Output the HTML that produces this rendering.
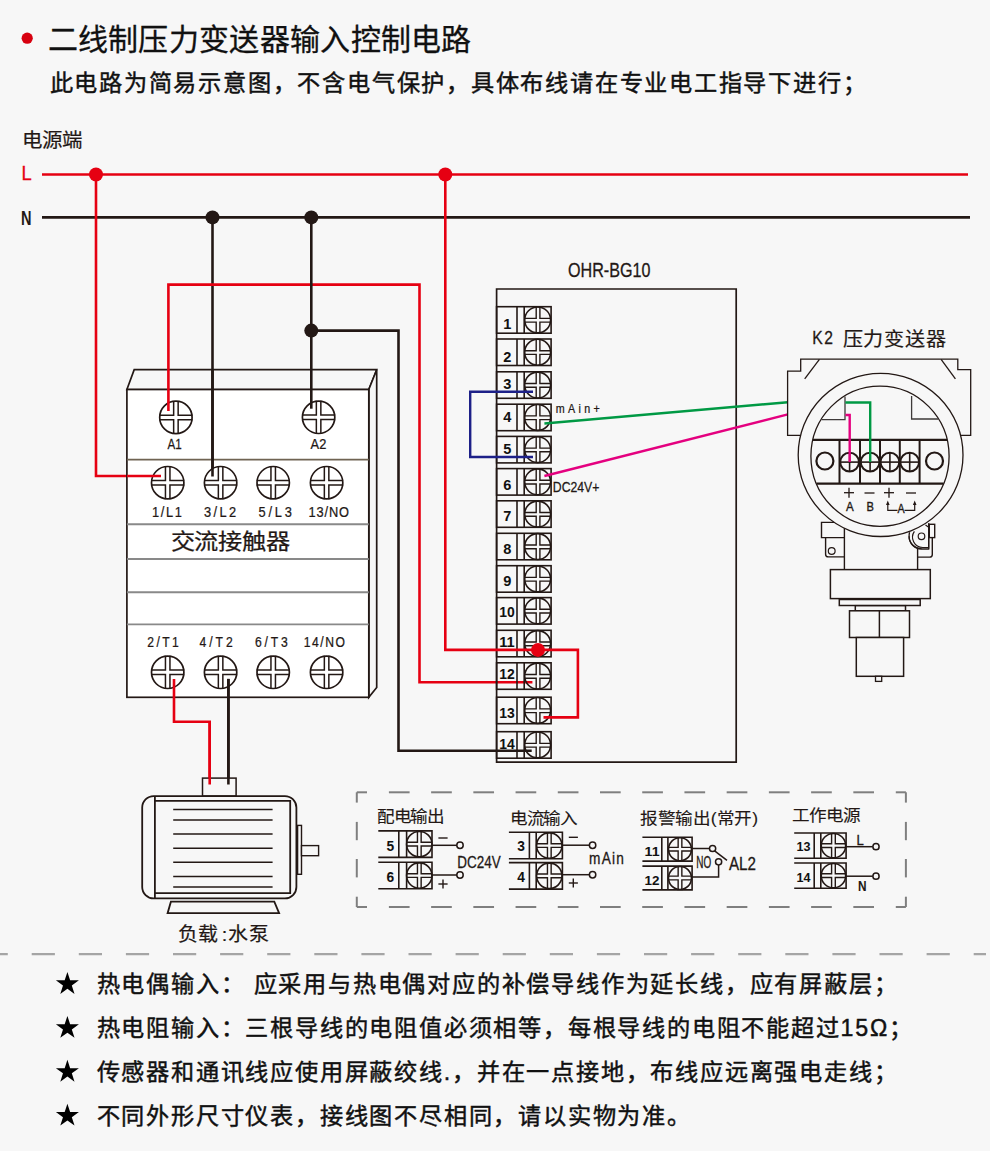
<!DOCTYPE html>
<html lang="zh-CN">
<head>
<meta charset="utf-8">
<style>
html,body{margin:0;padding:0;background:#f7f7f7;}
body{width:990px;height:1151px;overflow:hidden;position:relative;font-family:"Liberation Sans",sans-serif;}
svg{position:absolute;left:0;top:0;}
</style>
</head>
<body>
<svg width="990" height="1151" viewBox="0 0 990 1151">

<circle cx="27.2" cy="38.2" r="5.6" fill="#d7000f"/>
<text x="47.6" y="50.1" font-size="30" fill="#111" font-weight="400" text-anchor="start" font-family="Liberation Sans" letter-spacing="0.3" stroke="#111" stroke-width="0.3">二线制压力变送器输入控制电路</text>
<text x="49.6" y="91.4" font-size="23.2" fill="#111" font-weight="500" text-anchor="start" font-family="Liberation Sans" letter-spacing="1.78" stroke="#111" stroke-width="0.45">此电路为简易示意图，不含电气保护，具体布线请在专业电工指导下进行；</text>
<text transform="translate(21.88,146.6) scale(1.05,1)" x="0" y="0" font-size="19.5" fill="#231815" font-weight="400" font-family="Liberation Sans" textLength="57.85" lengthAdjust="spacing" stroke="#231815" stroke-width="0.2">电源端</text>
<text x="21.4" y="179.8" font-size="19.5" fill="#e60012" font-weight="400" text-anchor="start" font-family="Liberation Sans" textLength="10.2" lengthAdjust="spacingAndGlyphs" stroke="#e60012" stroke-width="0.3">L</text>
<text x="21" y="225" font-size="19.5" fill="#231815" font-weight="700" text-anchor="start" font-family="Liberation Sans" textLength="10.5" lengthAdjust="spacingAndGlyphs" >N</text>
<line x1="42" y1="174.5" x2="968" y2="174.5" stroke="#e60012" stroke-width="2.6" />
<line x1="42" y1="217.4" x2="970" y2="217.4" stroke="#231815" stroke-width="2.6" />
<polyline points="96,174.5 96,476 161,476" fill="none" stroke="#e60012" stroke-width="2.6" stroke-linejoin="miter" />
<polyline points="212.5,217.4 212.5,476.5" fill="none" stroke="#231815" stroke-width="2.6" stroke-linejoin="miter" />
<polygon points="126.9,389.5 134.2,369.7 376.7,369.7 368.8,389.5" fill="#f7f7f7" stroke="#231815" stroke-width="1.7" stroke-linejoin="miter" />
<polygon points="368.8,389.5 376.7,369.7 376.7,687.5 368.8,697.3" fill="#f7f7f7" stroke="#231815" stroke-width="1.7" stroke-linejoin="miter" />
<rect x="126.9" y="389.5" width="241.9" height="307.8" fill="#fff" stroke="#231815" stroke-width="1.7" />
<line x1="126.9" y1="459.6" x2="368.8" y2="459.6" stroke="#6f6352" stroke-width="1.7" />
<line x1="126.9" y1="524.2" x2="368.8" y2="524.2" stroke="#898989" stroke-width="1.9" />
<line x1="126.9" y1="559" x2="368.8" y2="559" stroke="#898989" stroke-width="1.9" />
<line x1="126.9" y1="592.3" x2="368.8" y2="592.3" stroke="#898989" stroke-width="1.9" />
<line x1="126.9" y1="624.4" x2="368.8" y2="624.4" stroke="#898989" stroke-width="1.9" />
<line x1="212.5" y1="369.7" x2="212.5" y2="476.5" stroke="#231815" stroke-width="2.6" />
<circle cx="175.9" cy="417.4" r="16.2" fill="#fff" stroke="#231815" stroke-width="1.7"/>
<path d="M173.65,400.9V415.15H159.3 M178.15,400.9V415.15H192.5 M173.65,433.9V419.65H159.3 M178.15,433.9V419.65H192.5" fill="none" stroke="#231815" stroke-width="1.5"/>
<circle cx="318.6" cy="417.3" r="16.2" fill="#fff" stroke="#231815" stroke-width="1.7"/>
<path d="M316.35,400.8V415.05H302.00000000000006 M320.85,400.8V415.05H335.2 M316.35,433.8V419.55H302.00000000000006 M320.85,433.8V419.55H335.2" fill="none" stroke="#231815" stroke-width="1.5"/>
<text transform="translate(167.6,448.7) scale(0.769,1)" x="0" y="0" font-size="15.1" fill="#231815" font-weight="400" font-family="Liberation Sans" textLength="18.47" lengthAdjust="spacing" stroke="#231815" stroke-width="0.25">A1</text>
<text transform="translate(310.4,448.7) scale(0.850,1)" x="0" y="0" font-size="15.1" fill="#231815" font-weight="400" font-family="Liberation Sans" textLength="18.71" lengthAdjust="spacing" stroke="#231815" stroke-width="0.25">A2</text>
<circle cx="167.7" cy="482.7" r="16.2" fill="#fff" stroke="#231815" stroke-width="1.7"/>
<path d="M165.45,466.2V480.45H151.1 M169.95,466.2V480.45H184.29999999999998 M165.45,499.2V484.95H151.1 M169.95,499.2V484.95H184.29999999999998" fill="none" stroke="#231815" stroke-width="1.5"/>
<circle cx="167.7" cy="672.3" r="16.2" fill="#fff" stroke="#231815" stroke-width="1.7"/>
<path d="M165.45,655.8V670.05H151.1 M169.95,655.8V670.05H184.29999999999998 M165.45,688.8V674.55H151.1 M169.95,688.8V674.55H184.29999999999998" fill="none" stroke="#231815" stroke-width="1.5"/>
<circle cx="220.6" cy="482.7" r="16.2" fill="#fff" stroke="#231815" stroke-width="1.7"/>
<path d="M218.35,466.2V480.45H204.0 M222.85,466.2V480.45H237.2 M218.35,499.2V484.95H204.0 M222.85,499.2V484.95H237.2" fill="none" stroke="#231815" stroke-width="1.5"/>
<circle cx="220.6" cy="672.3" r="16.2" fill="#fff" stroke="#231815" stroke-width="1.7"/>
<path d="M218.35,655.8V670.05H204.0 M222.85,655.8V670.05H237.2 M218.35,688.8V674.55H204.0 M222.85,688.8V674.55H237.2" fill="none" stroke="#231815" stroke-width="1.5"/>
<circle cx="273.2" cy="482.7" r="16.2" fill="#fff" stroke="#231815" stroke-width="1.7"/>
<path d="M270.95,466.2V480.45H256.6 M275.45,466.2V480.45H289.79999999999995 M270.95,499.2V484.95H256.6 M275.45,499.2V484.95H289.79999999999995" fill="none" stroke="#231815" stroke-width="1.5"/>
<circle cx="273.2" cy="672.3" r="16.2" fill="#fff" stroke="#231815" stroke-width="1.7"/>
<path d="M270.95,655.8V670.05H256.6 M275.45,655.8V670.05H289.79999999999995 M270.95,688.8V674.55H256.6 M275.45,688.8V674.55H289.79999999999995" fill="none" stroke="#231815" stroke-width="1.5"/>
<circle cx="326.6" cy="482.7" r="16.2" fill="#fff" stroke="#231815" stroke-width="1.7"/>
<path d="M324.35,466.2V480.45H310.00000000000006 M328.85,466.2V480.45H343.2 M324.35,499.2V484.95H310.00000000000006 M328.85,499.2V484.95H343.2" fill="none" stroke="#231815" stroke-width="1.5"/>
<circle cx="326.6" cy="672.3" r="16.2" fill="#fff" stroke="#231815" stroke-width="1.7"/>
<path d="M324.35,655.8V670.05H310.00000000000006 M328.85,655.8V670.05H343.2 M324.35,688.8V674.55H310.00000000000006 M328.85,688.8V674.55H343.2" fill="none" stroke="#231815" stroke-width="1.5"/>
<text transform="translate(152.0,516.8) scale(0.850,1)" x="0" y="0" font-size="15.1" fill="#231815" font-weight="400" font-family="Liberation Sans" textLength="35.29" lengthAdjust="spacing" stroke="#231815" stroke-width="0.25">1/L1</text>
<text transform="translate(204.0,516.8) scale(0.850,1)" x="0" y="0" font-size="15.1" fill="#231815" font-weight="400" font-family="Liberation Sans" textLength="37.76" lengthAdjust="spacing" stroke="#231815" stroke-width="0.25">3/L2</text>
<text transform="translate(258.5,516.8) scale(0.850,1)" x="0" y="0" font-size="15.1" fill="#231815" font-weight="400" font-family="Liberation Sans" textLength="39.41" lengthAdjust="spacing" stroke="#231815" stroke-width="0.25">5/L3</text>
<text transform="translate(308.5,516.8) scale(0.850,1)" x="0" y="0" font-size="15.1" fill="#231815" font-weight="400" font-family="Liberation Sans" textLength="47.76" lengthAdjust="spacing" stroke="#231815" stroke-width="0.25">13/NO</text>
<text transform="translate(147.20000000000002,646.9) scale(0.850,1)" x="0" y="0" font-size="14.3" fill="#231815" font-weight="400" font-family="Liberation Sans" textLength="37.18" lengthAdjust="spacing" stroke="#231815" stroke-width="0.25">2/T1</text>
<text transform="translate(199.4,646.9) scale(0.850,1)" x="0" y="0" font-size="14.3" fill="#231815" font-weight="400" font-family="Liberation Sans" textLength="39.29" lengthAdjust="spacing" stroke="#231815" stroke-width="0.25">4/T2</text>
<text transform="translate(255.0,646.9) scale(0.850,1)" x="0" y="0" font-size="14.3" fill="#231815" font-weight="400" font-family="Liberation Sans" textLength="38.47" lengthAdjust="spacing" stroke="#231815" stroke-width="0.25">6/T3</text>
<text transform="translate(303.79999999999995,646.9) scale(0.850,1)" x="0" y="0" font-size="14.3" fill="#231815" font-weight="400" font-family="Liberation Sans" textLength="48.47" lengthAdjust="spacing" stroke="#231815" stroke-width="0.25">14/NO</text>
<text transform="translate(170.53,549.4) scale(1.1,1)" x="0" y="0" font-size="22" fill="#231815" font-weight="400" font-family="Liberation Sans" textLength="109.03" lengthAdjust="spacing" stroke="#231815" stroke-width="0.25">交流接触器</text>
<polyline points="168.4,410.9 168.4,284.6 419.5,284.6 419.5,682.3 532.4,682.3" fill="none" stroke="#e60012" stroke-width="2.6" stroke-linejoin="miter" />
<polyline points="311.3,217.4 311.3,408.7" fill="none" stroke="#231815" stroke-width="2.6" stroke-linejoin="miter" />
<polyline points="311.3,330.6 398.5,330.6 398.5,750.7 531.7,750.7" fill="none" stroke="#231815" stroke-width="2.6" stroke-linejoin="miter" />
<line x1="126.9" y1="476" x2="161" y2="476" stroke="#e60012" stroke-width="2.6" />
<line x1="212.5" y1="369.7" x2="212.5" y2="476.5" stroke="#231815" stroke-width="2.6" />
<polyline points="174,678.9 174,721.7 209.7,721.7 209.7,784.7" fill="none" stroke="#e60012" stroke-width="2.6" stroke-linejoin="miter" />
<polyline points="228.4,678.9 228.4,784.7" fill="none" stroke="#231815" stroke-width="2.6" stroke-linejoin="miter" />
<text transform="translate(568.0,277.4) scale(0.832,1)" x="0" y="0" font-size="19.4" fill="#231815" font-weight="400" font-family="Liberation Sans" textLength="99.18" lengthAdjust="spacing" stroke="#231815" stroke-width="0.3">OHR-BG10</text>
<polygon points="496.6,762.1 496.6,289 736.2,289 736.2,762.1 496.6,762.1" fill="none" stroke="#231815" stroke-width="1.7" stroke-linejoin="miter" />
<rect x="496.6" y="306.7" width="54.5" height="26.5" fill="none" stroke="#231815" stroke-width="1.6" />
<line x1="517.0" y1="306.7" x2="517.0" y2="333.2" stroke="#231815" stroke-width="1.6" />
<line x1="524.2" y1="306.7" x2="524.2" y2="333.2" stroke="#231815" stroke-width="1.6" />
<circle cx="537.6500000000001" cy="319.95" r="12.95" fill="none" stroke="#231815" stroke-width="1.6"/>
<path d="M536.2,306.7V318.4H524.7 M539.9000000000001,306.7V318.4H550.6000000000001 M536.2,333.2V322.1H524.7 M539.9000000000001,333.2V322.1H550.6000000000001" fill="none" stroke="#231815" stroke-width="1.4"/>
<text x="507.2" y="329.2" font-size="14.6" fill="#111" font-weight="700" text-anchor="middle" font-family="Liberation Sans" >1</text>
<rect x="496.6" y="339" width="54.5" height="26.5" fill="none" stroke="#231815" stroke-width="1.6" />
<line x1="517.0" y1="339" x2="517.0" y2="365.5" stroke="#231815" stroke-width="1.6" />
<line x1="524.2" y1="339" x2="524.2" y2="365.5" stroke="#231815" stroke-width="1.6" />
<circle cx="537.6500000000001" cy="352.25" r="12.95" fill="none" stroke="#231815" stroke-width="1.6"/>
<path d="M536.2,339V350.7H524.7 M539.9000000000001,339V350.7H550.6000000000001 M536.2,365.5V354.40000000000003H524.7 M539.9000000000001,365.5V354.40000000000003H550.6000000000001" fill="none" stroke="#231815" stroke-width="1.4"/>
<text x="507.2" y="362.2" font-size="14.6" fill="#111" font-weight="700" text-anchor="middle" font-family="Liberation Sans" >2</text>
<rect x="496.6" y="371.8" width="54.5" height="26.5" fill="none" stroke="#231815" stroke-width="1.6" />
<line x1="517.0" y1="371.8" x2="517.0" y2="398.3" stroke="#231815" stroke-width="1.6" />
<line x1="524.2" y1="371.8" x2="524.2" y2="398.3" stroke="#231815" stroke-width="1.6" />
<circle cx="537.6500000000001" cy="385.05" r="12.95" fill="none" stroke="#231815" stroke-width="1.6"/>
<path d="M536.2,371.8V383.5H524.7 M539.9000000000001,371.8V383.5H550.6000000000001 M536.2,398.3V387.20000000000005H524.7 M539.9000000000001,398.3V387.20000000000005H550.6000000000001" fill="none" stroke="#231815" stroke-width="1.4"/>
<text x="507.2" y="389.1" font-size="14.6" fill="#111" font-weight="700" text-anchor="middle" font-family="Liberation Sans" >3</text>
<rect x="496.6" y="404.2" width="54.5" height="26.5" fill="none" stroke="#231815" stroke-width="1.6" />
<line x1="517.0" y1="404.2" x2="517.0" y2="430.7" stroke="#231815" stroke-width="1.6" />
<line x1="524.2" y1="404.2" x2="524.2" y2="430.7" stroke="#231815" stroke-width="1.6" />
<circle cx="537.6500000000001" cy="417.45" r="12.95" fill="none" stroke="#231815" stroke-width="1.6"/>
<path d="M536.2,404.2V415.9H524.7 M539.9000000000001,404.2V415.9H550.6000000000001 M536.2,430.7V419.6H524.7 M539.9000000000001,430.7V419.6H550.6000000000001" fill="none" stroke="#231815" stroke-width="1.4"/>
<text x="507.2" y="422.1" font-size="14.6" fill="#111" font-weight="700" text-anchor="middle" font-family="Liberation Sans" >4</text>
<rect x="496.6" y="436.4" width="54.5" height="26.5" fill="none" stroke="#231815" stroke-width="1.6" />
<line x1="517.0" y1="436.4" x2="517.0" y2="462.9" stroke="#231815" stroke-width="1.6" />
<line x1="524.2" y1="436.4" x2="524.2" y2="462.9" stroke="#231815" stroke-width="1.6" />
<circle cx="537.6500000000001" cy="449.65" r="12.95" fill="none" stroke="#231815" stroke-width="1.6"/>
<path d="M536.2,436.4V448.09999999999997H524.7 M539.9000000000001,436.4V448.09999999999997H550.6000000000001 M536.2,462.9V451.8H524.7 M539.9000000000001,462.9V451.8H550.6000000000001" fill="none" stroke="#231815" stroke-width="1.4"/>
<text x="507.2" y="454.3" font-size="14.6" fill="#111" font-weight="700" text-anchor="middle" font-family="Liberation Sans" >5</text>
<rect x="496.6" y="468.6" width="54.5" height="26.5" fill="none" stroke="#231815" stroke-width="1.6" />
<line x1="517.0" y1="468.6" x2="517.0" y2="495.1" stroke="#231815" stroke-width="1.6" />
<line x1="524.2" y1="468.6" x2="524.2" y2="495.1" stroke="#231815" stroke-width="1.6" />
<circle cx="537.6500000000001" cy="481.85" r="12.95" fill="none" stroke="#231815" stroke-width="1.6"/>
<path d="M536.2,468.6V480.3H524.7 M539.9000000000001,468.6V480.3H550.6000000000001 M536.2,495.1V484.00000000000006H524.7 M539.9000000000001,495.1V484.00000000000006H550.6000000000001" fill="none" stroke="#231815" stroke-width="1.4"/>
<text x="507.2" y="489.9" font-size="14.6" fill="#111" font-weight="700" text-anchor="middle" font-family="Liberation Sans" >6</text>
<rect x="496.6" y="500.8" width="54.5" height="26.5" fill="none" stroke="#231815" stroke-width="1.6" />
<line x1="517.0" y1="500.8" x2="517.0" y2="527.3" stroke="#231815" stroke-width="1.6" />
<line x1="524.2" y1="500.8" x2="524.2" y2="527.3" stroke="#231815" stroke-width="1.6" />
<circle cx="537.6500000000001" cy="514.05" r="12.95" fill="none" stroke="#231815" stroke-width="1.6"/>
<path d="M536.2,500.8V512.4999999999999H524.7 M539.9000000000001,500.8V512.4999999999999H550.6000000000001 M536.2,527.3V516.1999999999999H524.7 M539.9000000000001,527.3V516.1999999999999H550.6000000000001" fill="none" stroke="#231815" stroke-width="1.4"/>
<text x="507.2" y="521.3" font-size="14.6" fill="#111" font-weight="700" text-anchor="middle" font-family="Liberation Sans" >7</text>
<rect x="496.6" y="533.3" width="54.5" height="26.5" fill="none" stroke="#231815" stroke-width="1.6" />
<line x1="517.0" y1="533.3" x2="517.0" y2="559.8" stroke="#231815" stroke-width="1.6" />
<line x1="524.2" y1="533.3" x2="524.2" y2="559.8" stroke="#231815" stroke-width="1.6" />
<circle cx="537.6500000000001" cy="546.55" r="12.95" fill="none" stroke="#231815" stroke-width="1.6"/>
<path d="M536.2,533.3V544.9999999999999H524.7 M539.9000000000001,533.3V544.9999999999999H550.6000000000001 M536.2,559.8V548.6999999999999H524.7 M539.9000000000001,559.8V548.6999999999999H550.6000000000001" fill="none" stroke="#231815" stroke-width="1.4"/>
<text x="507.2" y="554.1" font-size="14.6" fill="#111" font-weight="700" text-anchor="middle" font-family="Liberation Sans" >8</text>
<rect x="496.6" y="565.7" width="54.5" height="26.5" fill="none" stroke="#231815" stroke-width="1.6" />
<line x1="517.0" y1="565.7" x2="517.0" y2="592.2" stroke="#231815" stroke-width="1.6" />
<line x1="524.2" y1="565.7" x2="524.2" y2="592.2" stroke="#231815" stroke-width="1.6" />
<circle cx="537.6500000000001" cy="578.95" r="12.95" fill="none" stroke="#231815" stroke-width="1.6"/>
<path d="M536.2,565.7V577.4H524.7 M539.9000000000001,565.7V577.4H550.6000000000001 M536.2,592.2V581.1H524.7 M539.9000000000001,592.2V581.1H550.6000000000001" fill="none" stroke="#231815" stroke-width="1.4"/>
<text x="507.2" y="585.8" font-size="14.6" fill="#111" font-weight="700" text-anchor="middle" font-family="Liberation Sans" >9</text>
<rect x="496.6" y="597.6" width="54.5" height="26.5" fill="none" stroke="#231815" stroke-width="1.6" />
<line x1="517.0" y1="597.6" x2="517.0" y2="624.1" stroke="#231815" stroke-width="1.6" />
<line x1="524.2" y1="597.6" x2="524.2" y2="624.1" stroke="#231815" stroke-width="1.6" />
<circle cx="537.6500000000001" cy="610.85" r="12.95" fill="none" stroke="#231815" stroke-width="1.6"/>
<path d="M536.2,597.6V609.3H524.7 M539.9000000000001,597.6V609.3H550.6000000000001 M536.2,624.1V613.0H524.7 M539.9000000000001,624.1V613.0H550.6000000000001" fill="none" stroke="#231815" stroke-width="1.4"/>
<text x="507.0" y="617.0" font-size="14.6" fill="#111" font-weight="700" text-anchor="middle" font-family="Liberation Sans" textLength="15.5" lengthAdjust="spacingAndGlyphs" >10</text>
<rect x="496.6" y="630.3" width="54.5" height="26.5" fill="none" stroke="#231815" stroke-width="1.6" />
<line x1="517.0" y1="630.3" x2="517.0" y2="656.8" stroke="#231815" stroke-width="1.6" />
<line x1="524.2" y1="630.3" x2="524.2" y2="656.8" stroke="#231815" stroke-width="1.6" />
<circle cx="537.6500000000001" cy="643.55" r="12.95" fill="none" stroke="#231815" stroke-width="1.6"/>
<path d="M536.2,630.3V641.9999999999999H524.7 M539.9000000000001,630.3V641.9999999999999H550.6000000000001 M536.2,656.8V645.6999999999999H524.7 M539.9000000000001,656.8V645.6999999999999H550.6000000000001" fill="none" stroke="#231815" stroke-width="1.4"/>
<text x="507.0" y="646.8" font-size="14.6" fill="#111" font-weight="700" text-anchor="middle" font-family="Liberation Sans" textLength="15.5" lengthAdjust="spacingAndGlyphs" >11</text>
<rect x="496.6" y="662.8" width="54.5" height="26.5" fill="none" stroke="#231815" stroke-width="1.6" />
<line x1="517.0" y1="662.8" x2="517.0" y2="689.3" stroke="#231815" stroke-width="1.6" />
<line x1="524.2" y1="662.8" x2="524.2" y2="689.3" stroke="#231815" stroke-width="1.6" />
<circle cx="537.6500000000001" cy="676.05" r="12.95" fill="none" stroke="#231815" stroke-width="1.6"/>
<path d="M536.2,662.8V674.4999999999999H524.7 M539.9000000000001,662.8V674.4999999999999H550.6000000000001 M536.2,689.3V678.1999999999999H524.7 M539.9000000000001,689.3V678.1999999999999H550.6000000000001" fill="none" stroke="#231815" stroke-width="1.4"/>
<text x="507.0" y="678.5" font-size="14.6" fill="#111" font-weight="700" text-anchor="middle" font-family="Liberation Sans" textLength="15.5" lengthAdjust="spacingAndGlyphs" >12</text>
<rect x="496.6" y="697.2" width="54.5" height="26.5" fill="none" stroke="#231815" stroke-width="1.6" />
<line x1="517.0" y1="697.2" x2="517.0" y2="723.7" stroke="#231815" stroke-width="1.6" />
<line x1="524.2" y1="697.2" x2="524.2" y2="723.7" stroke="#231815" stroke-width="1.6" />
<circle cx="537.6500000000001" cy="710.45" r="12.95" fill="none" stroke="#231815" stroke-width="1.6"/>
<path d="M536.2,697.2V708.9H524.7 M539.9000000000001,697.2V708.9H550.6000000000001 M536.2,723.7V712.6H524.7 M539.9000000000001,723.7V712.6H550.6000000000001" fill="none" stroke="#231815" stroke-width="1.4"/>
<text x="507.0" y="718.3" font-size="14.6" fill="#111" font-weight="700" text-anchor="middle" font-family="Liberation Sans" textLength="15.5" lengthAdjust="spacingAndGlyphs" >13</text>
<rect x="496.6" y="731.7" width="54.5" height="26.5" fill="none" stroke="#231815" stroke-width="1.6" />
<line x1="517.0" y1="731.7" x2="517.0" y2="758.2" stroke="#231815" stroke-width="1.6" />
<line x1="524.2" y1="731.7" x2="524.2" y2="758.2" stroke="#231815" stroke-width="1.6" />
<circle cx="537.6500000000001" cy="744.95" r="12.95" fill="none" stroke="#231815" stroke-width="1.6"/>
<path d="M536.2,731.7V743.4H524.7 M539.9000000000001,731.7V743.4H550.6000000000001 M536.2,758.2V747.1H524.7 M539.9000000000001,758.2V747.1H550.6000000000001" fill="none" stroke="#231815" stroke-width="1.4"/>
<text x="507.0" y="748.8" font-size="14.6" fill="#111" font-weight="700" text-anchor="middle" font-family="Liberation Sans" textLength="15.5" lengthAdjust="spacingAndGlyphs" >14</text>
<polyline points="445.3,174.5 445.3,649.9 577.9,649.9 577.9,717.4 543.5,717.4" fill="none" stroke="#e60012" stroke-width="2.6" stroke-linejoin="miter" />
<circle cx="538" cy="649.9" r="7" fill="#e60012"/>
<polyline points="533,391.7 470.2,391.7 470.2,457 533,457" fill="none" stroke="#1d2088" stroke-width="2.4" stroke-linejoin="miter" />
<line x1="544.4" y1="423.5" x2="787.8" y2="402.2" stroke="#009944" stroke-width="2.4" />
<line x1="544.4" y1="476" x2="787.8" y2="414.4" stroke="#e4007f" stroke-width="2.4" />
<text transform="translate(555.8,412.7) scale(0.850,1)" x="0" y="0" font-size="12.6" fill="#231815" font-weight="400" font-family="Liberation Sans" textLength="51.76" lengthAdjust="spacing" stroke="#231815" stroke-width="0.25">mAin+</text>
<text transform="translate(552.8,491.6) scale(0.833,1)" x="0" y="0" font-size="14.7" fill="#231815" font-weight="400" font-family="Liberation Sans" textLength="55.97" lengthAdjust="spacing" stroke="#231815" stroke-width="0.25">DC24V+</text>
<circle cx="96" cy="174.5" r="7" fill="#e60012"/>
<circle cx="445.3" cy="174.5" r="7" fill="#e60012"/>
<circle cx="212.5" cy="217.4" r="7" fill="#231815"/>
<circle cx="311.3" cy="217.4" r="7" fill="#231815"/>
<circle cx="311.3" cy="330.6" r="7" fill="#231815"/>
<text transform="translate(812.3,344.4) scale(0.850,1)" x="0" y="0" font-size="18.4" fill="#231815" font-weight="400" font-family="Liberation Sans" textLength="24.24" lengthAdjust="spacing" stroke="#231815" stroke-width="0.3">K2</text>
<text transform="translate(842.79,345.6) scale(1.06,1)" x="0" y="0" font-size="19" fill="#231815" font-weight="400" font-family="Liberation Sans" textLength="97.56" lengthAdjust="spacing" stroke="#231815" stroke-width="0.2">压力变送器</text>
<polyline points="800.2,435.4 787.6,435.4 787.6,371.2 800.7,371.2 800.7,359.1 957.8,359.1 957.8,369.6 970.7,369.6 970.7,435.4 960,435.4" fill="#f7f7f7" stroke="#231815" stroke-width="1.3" stroke-linejoin="miter" />
<line x1="819.4" y1="359.3" x2="804.7" y2="378.8" stroke="#231815" stroke-width="1.3" />
<line x1="941.1" y1="359.3" x2="955.4" y2="378.8" stroke="#231815" stroke-width="1.3" />
<path d="M844.4,522.4H821.5V537.6H844.4 M825.6,537.6V554.2Q825.6,556.9 828.3,556.9H844.4" fill="#f7f7f7" stroke="#231815" stroke-width="1.4"/>
<circle cx="831.7" cy="551" r="3.4" fill="none" stroke="#231815" stroke-width="1.2"/>
<path d="M917.6,557.1H929.6Q932.3,557.1 932.3,554.4V537.6" fill="none" stroke="#231815" stroke-width="1.4"/>
<rect x="929.3" y="524.3" width="5.4" height="13.3" fill="#f7f7f7" stroke="#231815" stroke-width="1.4" />
<path d="M928.7,523.3V548.7 M921.5,548.7A12.4,12.4 0 0 1 909.1,536.3" fill="none" stroke="#231815" stroke-width="1.3"/>
<line x1="844.4" y1="528" x2="844.4" y2="569.6" stroke="#231815" stroke-width="1.4" />
<line x1="917.6" y1="549" x2="917.6" y2="569.6" stroke="#231815" stroke-width="1.4" />
<ellipse cx="880.6" cy="454.9" rx="82.4" ry="81.6" fill="#f7f7f7" stroke="#231815" stroke-width="1.3"/>
<path d="M928.7,523.6V549H921.5A12.4,12.4 0 0 1 909.1,536.3A12.4,12.4 0 0 1 909.6,532.3" fill="none" stroke="#231815" stroke-width="1.3"/>
<path d="M928.7,547.5H922.8A10.2,10.2 0 0 1 914.4,531.45" fill="none" stroke="#231815" stroke-width="1.2"/>
<path d="M928.7,527.2L925.5,525" fill="none" stroke="#231815" stroke-width="1.2"/>
<circle cx="921.5" cy="536.3" r="3.3" fill="none" stroke="#231815" stroke-width="1.2"/>
<ellipse cx="880" cy="456.2" rx="69.1" ry="70.1" fill="#f7f7f7" stroke="#231815" stroke-width="1.3"/>
<polyline points="845,396.5 845,419.7 821.4,419.7" fill="none" stroke="#3e3a39" stroke-width="1.3" stroke-linejoin="miter" />
<polyline points="911.6,396 911.6,419 938.2,419" fill="none" stroke="#3e3a39" stroke-width="1.3" stroke-linejoin="miter" />
<line x1="812.8" y1="439.9" x2="947.2" y2="439.9" stroke="#231815" stroke-width="2.2" />
<line x1="816.4" y1="483.6" x2="943.6" y2="483.6" stroke="#231815" stroke-width="2.2" />
<line x1="839.5" y1="439.9" x2="839.5" y2="483.6" stroke="#231815" stroke-width="2" />
<line x1="860" y1="439.9" x2="860" y2="483.6" stroke="#231815" stroke-width="2" />
<line x1="880" y1="439.9" x2="880" y2="483.6" stroke="#231815" stroke-width="2" />
<line x1="899.8" y1="439.9" x2="899.8" y2="483.6" stroke="#231815" stroke-width="2" />
<line x1="919.6" y1="439.9" x2="919.6" y2="483.6" stroke="#231815" stroke-width="2" />
<circle cx="824.9" cy="461" r="8.5" fill="none" stroke="#231815" stroke-width="2.2"/>
<circle cx="934.5" cy="461" r="8.5" fill="none" stroke="#231815" stroke-width="2.2"/>
<circle cx="849.6" cy="462.1" r="9.4" fill="#f7f7f7" stroke="#231815" stroke-width="2"/>
<line x1="840.2" y1="462.1" x2="859.0" y2="462.1" stroke="#231815" stroke-width="1.6" />
<line x1="849.6" y1="452.7" x2="849.6" y2="471.5" stroke="#231815" stroke-width="1.6" />
<circle cx="870.1" cy="462.1" r="9.4" fill="#f7f7f7" stroke="#231815" stroke-width="2"/>
<line x1="860.7" y1="462.1" x2="879.5" y2="462.1" stroke="#231815" stroke-width="1.6" />
<line x1="870.1" y1="452.7" x2="870.1" y2="471.5" stroke="#231815" stroke-width="1.6" />
<circle cx="889.9" cy="462.1" r="9.4" fill="#f7f7f7" stroke="#231815" stroke-width="2"/>
<line x1="880.5" y1="462.1" x2="899.3" y2="462.1" stroke="#231815" stroke-width="1.6" />
<line x1="889.9" y1="452.7" x2="889.9" y2="471.5" stroke="#231815" stroke-width="1.6" />
<circle cx="909.7" cy="462.1" r="9.4" fill="#f7f7f7" stroke="#231815" stroke-width="2"/>
<line x1="900.3000000000001" y1="462.1" x2="919.1" y2="462.1" stroke="#231815" stroke-width="1.6" />
<line x1="909.7" y1="452.7" x2="909.7" y2="471.5" stroke="#231815" stroke-width="1.6" />
<polyline points="845.4,402.5 870.2,402.5 870.2,462.1" fill="none" stroke="#009944" stroke-width="2.4" stroke-linejoin="miter" />
<polyline points="845.4,415 849.7,415 849.7,462.1" fill="none" stroke="#e4007f" stroke-width="2.4" stroke-linejoin="miter" />
<line x1="844" y1="492.7" x2="854" y2="492.7" stroke="#231815" stroke-width="1.3" />
<line x1="849" y1="487.8" x2="849" y2="497.7" stroke="#231815" stroke-width="1.3" />
<line x1="884" y1="492.7" x2="894" y2="492.7" stroke="#231815" stroke-width="1.3" />
<line x1="889" y1="487.8" x2="889" y2="497.7" stroke="#231815" stroke-width="1.3" />
<line x1="864.5" y1="493" x2="874.5" y2="493" stroke="#231815" stroke-width="1.3" />
<line x1="906" y1="493" x2="916" y2="493" stroke="#231815" stroke-width="1.3" />
<text transform="translate(845.9,510.6) scale(0.850,1)" x="0" y="0" font-size="13.6" fill="#231815" font-weight="400" font-family="Liberation Sans" textLength="9.18" lengthAdjust="spacing" stroke="#231815" stroke-width="0.35">A</text>
<text transform="translate(866.4,510.6) scale(0.816,1)" x="0" y="0" font-size="13.6" fill="#231815" font-weight="400" font-family="Liberation Sans" textLength="9.07" lengthAdjust="spacing" stroke="#231815" stroke-width="0.35">B</text>
<text transform="translate(897.4,513) scale(0.850,1)" x="0" y="0" font-size="12.6" fill="#231815" font-weight="400" font-family="Liberation Sans" textLength="8.47" lengthAdjust="spacing" stroke="#231815" stroke-width="0.35">A</text>
<path d="M887.8,503.5V510.4H897.5 M904.5,510.4H914.7V503.5" fill="none" stroke="#231815" stroke-width="1.2"/>
<path d="M887.8,500.5L886,505H889.6Z M914.7,500.5L912.9,505H916.5Z" fill="#231815"/>
<rect x="830.4" y="569.6" width="99.9" height="29" fill="#f7f7f7" stroke="#231815" stroke-width="1.5" />
<rect x="839.3" y="599.5" width="80.9" height="6" fill="#f7f7f7" stroke="#231815" stroke-width="1.5" />
<rect x="855.3" y="605.7" width="50.2" height="5.1" fill="#f7f7f7" stroke="#231815" stroke-width="1.5" />
<rect x="849.5" y="610.8" width="60" height="26.7" fill="#f7f7f7" stroke="#231815" stroke-width="1.5" />
<line x1="879.4" y1="610.8" x2="879.4" y2="637.5" stroke="#231815" stroke-width="1.5" />
<rect x="856.3" y="637.5" width="47.3" height="38.8" fill="#f7f7f7" stroke="#231815" stroke-width="1.5" />
<rect x="875.5" y="676.3" width="6.2" height="5.1" fill="#f7f7f7" stroke="#231815" stroke-width="1.3" />
<rect x="202.5" y="778.1" width="33.6" height="18" fill="#f7f7f7" stroke="#231815" stroke-width="1.5" />
<rect x="142.2" y="796.1" width="154.2" height="102.3" rx="11.5" ry="11.5" fill="#f7f7f7" stroke="#231815" stroke-width="1.8"/>
<line x1="154.9" y1="796.1" x2="154.9" y2="898.4" stroke="#231815" stroke-width="1.8" />
<polyline points="154.9,800.9 290.2,800.9 290.2,893.2 154.9,893.2" fill="none" stroke="#231815" stroke-width="1.8" stroke-linejoin="miter" />
<line x1="173.2" y1="809.5" x2="272.6" y2="809.5" stroke="#231815" stroke-width="1.5" />
<line x1="173.2" y1="819.9" x2="272.6" y2="819.9" stroke="#231815" stroke-width="1.5" />
<line x1="173.2" y1="834.1" x2="272.6" y2="834.1" stroke="#231815" stroke-width="1.5" />
<line x1="173.2" y1="848.2" x2="272.6" y2="848.2" stroke="#231815" stroke-width="1.5" />
<line x1="173.2" y1="862.3" x2="272.6" y2="862.3" stroke="#231815" stroke-width="1.5" />
<line x1="173.2" y1="876.5" x2="272.6" y2="876.5" stroke="#231815" stroke-width="1.5" />
<line x1="173.2" y1="887" x2="272.6" y2="887" stroke="#231815" stroke-width="1.5" />
<rect x="297.6" y="825.4" width="3.9" height="48.9" fill="#f7f7f7" stroke="#231815" stroke-width="1.4" />
<rect x="301.5" y="845.6" width="17.1" height="10.1" fill="#f7f7f7" stroke="#231815" stroke-width="1.4" />
<polygon points="170.9,901.7 274.3,901.7 279.1,913.2 167.6,913.2" fill="none" stroke="#231815" stroke-width="1.8" stroke-linejoin="miter" />
<text transform="translate(177.60,940.6) scale(1.05,1)" x="0" y="0" font-size="19" fill="#231815" font-weight="400" font-family="Liberation Sans" textLength="18.19" lengthAdjust="spacing" stroke="#231815" stroke-width="0.2">负</text>
<text transform="translate(197.60,940.6) scale(1.05,1)" x="0" y="0" font-size="19" fill="#231815" font-weight="400" font-family="Liberation Sans" textLength="18.19" lengthAdjust="spacing" stroke="#231815" stroke-width="0.2">载</text>
<text transform="translate(221.80,940.6) scale(1.05,1)" x="0" y="0" font-size="19" fill="#231815" font-weight="400" font-family="Liberation Sans" textLength="4.38" lengthAdjust="spacing" stroke="#231815" stroke-width="0.2">:</text>
<text transform="translate(228.00,940.6) scale(1.05,1)" x="0" y="0" font-size="19" fill="#231815" font-weight="400" font-family="Liberation Sans" textLength="18.19" lengthAdjust="spacing" stroke="#231815" stroke-width="0.2">水</text>
<text transform="translate(248.60,940.6) scale(1.05,1)" x="0" y="0" font-size="19" fill="#231815" font-weight="400" font-family="Liberation Sans" textLength="18.19" lengthAdjust="spacing" stroke="#231815" stroke-width="0.2">泵</text>
<line x1="209.7" y1="721.7" x2="209.7" y2="784.5" stroke="#e60012" stroke-width="2.6" />
<line x1="228.4" y1="678.9" x2="228.4" y2="784.5" stroke="#231815" stroke-width="2.6" />
<line x1="356.8" y1="792.3" x2="367" y2="792.3" stroke="#7f7f7f" stroke-width="2" />
<line x1="388.9" y1="792.3" x2="409.59999999999997" y2="792.3" stroke="#7f7f7f" stroke-width="2" />
<line x1="431.12" y1="792.3" x2="451.82" y2="792.3" stroke="#7f7f7f" stroke-width="2" />
<line x1="473.34" y1="792.3" x2="494.03999999999996" y2="792.3" stroke="#7f7f7f" stroke-width="2" />
<line x1="515.56" y1="792.3" x2="536.26" y2="792.3" stroke="#7f7f7f" stroke-width="2" />
<line x1="557.78" y1="792.3" x2="578.48" y2="792.3" stroke="#7f7f7f" stroke-width="2" />
<line x1="600.0" y1="792.3" x2="620.7" y2="792.3" stroke="#7f7f7f" stroke-width="2" />
<line x1="642.22" y1="792.3" x2="662.9200000000001" y2="792.3" stroke="#7f7f7f" stroke-width="2" />
<line x1="684.4399999999999" y1="792.3" x2="705.14" y2="792.3" stroke="#7f7f7f" stroke-width="2" />
<line x1="726.66" y1="792.3" x2="747.36" y2="792.3" stroke="#7f7f7f" stroke-width="2" />
<line x1="768.88" y1="792.3" x2="789.58" y2="792.3" stroke="#7f7f7f" stroke-width="2" />
<line x1="811.0999999999999" y1="792.3" x2="831.8" y2="792.3" stroke="#7f7f7f" stroke-width="2" />
<line x1="853.3199999999999" y1="792.3" x2="874.02" y2="792.3" stroke="#7f7f7f" stroke-width="2" />
<line x1="895.8" y1="792.3" x2="905.9" y2="792.3" stroke="#7f7f7f" stroke-width="2" />
<line x1="356.8" y1="907" x2="367" y2="907" stroke="#7f7f7f" stroke-width="2" />
<line x1="388.9" y1="907" x2="409.59999999999997" y2="907" stroke="#7f7f7f" stroke-width="2" />
<line x1="431.12" y1="907" x2="451.82" y2="907" stroke="#7f7f7f" stroke-width="2" />
<line x1="473.34" y1="907" x2="494.03999999999996" y2="907" stroke="#7f7f7f" stroke-width="2" />
<line x1="515.56" y1="907" x2="536.26" y2="907" stroke="#7f7f7f" stroke-width="2" />
<line x1="557.78" y1="907" x2="578.48" y2="907" stroke="#7f7f7f" stroke-width="2" />
<line x1="600.0" y1="907" x2="620.7" y2="907" stroke="#7f7f7f" stroke-width="2" />
<line x1="642.22" y1="907" x2="662.9200000000001" y2="907" stroke="#7f7f7f" stroke-width="2" />
<line x1="684.4399999999999" y1="907" x2="705.14" y2="907" stroke="#7f7f7f" stroke-width="2" />
<line x1="726.66" y1="907" x2="747.36" y2="907" stroke="#7f7f7f" stroke-width="2" />
<line x1="768.88" y1="907" x2="789.58" y2="907" stroke="#7f7f7f" stroke-width="2" />
<line x1="811.0999999999999" y1="907" x2="831.8" y2="907" stroke="#7f7f7f" stroke-width="2" />
<line x1="853.3199999999999" y1="907" x2="874.02" y2="907" stroke="#7f7f7f" stroke-width="2" />
<line x1="895.8" y1="907" x2="905.9" y2="907" stroke="#7f7f7f" stroke-width="2" />
<line x1="356.8" y1="792.3" x2="356.8" y2="802.6" stroke="#7f7f7f" stroke-width="2" />
<line x1="356.8" y1="821.9" x2="356.8" y2="840.2" stroke="#7f7f7f" stroke-width="2" />
<line x1="356.8" y1="859" x2="356.8" y2="877.4" stroke="#7f7f7f" stroke-width="2" />
<line x1="356.8" y1="896.7" x2="356.8" y2="907" stroke="#7f7f7f" stroke-width="2" />
<line x1="905.9" y1="792.3" x2="905.9" y2="802.6" stroke="#7f7f7f" stroke-width="2" />
<line x1="905.9" y1="821.9" x2="905.9" y2="840.2" stroke="#7f7f7f" stroke-width="2" />
<line x1="905.9" y1="859" x2="905.9" y2="877.4" stroke="#7f7f7f" stroke-width="2" />
<line x1="905.9" y1="896.7" x2="905.9" y2="907" stroke="#7f7f7f" stroke-width="2" />
<text transform="translate(376.90,822.3) scale(1.1,1)" x="0" y="0" font-size="16" fill="#231815" font-weight="400" font-family="Liberation Sans" textLength="61.64" lengthAdjust="spacing" stroke="#231815" stroke-width="0.12">配电输出</text>
<path d="M378.3,830.9H432.0V857.4H378.3" fill="none" stroke="#231815" stroke-width="1.6"/>
<line x1="398.8" y1="830.9" x2="398.8" y2="857.4" stroke="#231815" stroke-width="1.6" />
<line x1="406.6" y1="830.9" x2="406.6" y2="857.4" stroke="#231815" stroke-width="1.6" />
<circle cx="419.3" cy="844.15" r="12.7" fill="none" stroke="#231815" stroke-width="1.6"/>
<path d="M417.45,830.9V842.3H406.6 M421.15000000000003,830.9V842.3H432.0 M417.45,857.4V846.0H406.6 M421.15000000000003,857.4V846.0H432.0" fill="none" stroke="#231815" stroke-width="1.4"/>
<text x="386.6" y="851" font-size="13.8" fill="#111" font-weight="700" text-anchor="start" font-family="Liberation Sans" >5</text>
<path d="M378.3,862.3H432.0V888.8H378.3" fill="none" stroke="#231815" stroke-width="1.6"/>
<line x1="398.8" y1="862.3" x2="398.8" y2="888.8" stroke="#231815" stroke-width="1.6" />
<line x1="406.6" y1="862.3" x2="406.6" y2="888.8" stroke="#231815" stroke-width="1.6" />
<circle cx="419.3" cy="875.55" r="12.7" fill="none" stroke="#231815" stroke-width="1.6"/>
<path d="M417.45,862.3V873.6999999999999H406.6 M421.15000000000003,862.3V873.6999999999999H432.0 M417.45,888.8V877.4H406.6 M421.15000000000003,888.8V877.4H432.0" fill="none" stroke="#231815" stroke-width="1.4"/>
<text x="386.6" y="882.1" font-size="13.8" fill="#111" font-weight="700" text-anchor="start" font-family="Liberation Sans" >6</text>
<line x1="432" y1="845.3" x2="457" y2="845.3" stroke="#231815" stroke-width="1.5" />
<circle cx="460" cy="845.3" r="3.2" fill="none" stroke="#231815" stroke-width="1.5"/>
<line x1="432" y1="875" x2="457" y2="875" stroke="#231815" stroke-width="1.5" />
<circle cx="460" cy="875" r="3.2" fill="none" stroke="#231815" stroke-width="1.5"/>
<line x1="438.4" y1="838" x2="447.6" y2="838" stroke="#231815" stroke-width="1.4" />
<line x1="438.4" y1="884" x2="447.6" y2="884" stroke="#231815" stroke-width="1.4" />
<line x1="443" y1="879.4" x2="443" y2="888.6" stroke="#231815" stroke-width="1.4" />
<text transform="translate(457.29999999999995,868.1) scale(0.800,1)" x="0" y="0" font-size="16.8" fill="#231815" font-weight="400" font-family="Liberation Sans" textLength="54.16" lengthAdjust="spacing" stroke="#231815" stroke-width="0.3">DC24V</text>
<text transform="translate(509.80,823.5) scale(1.1,1)" x="0" y="0" font-size="16" fill="#231815" font-weight="400" font-family="Liberation Sans" textLength="61.83" lengthAdjust="spacing" stroke="#231815" stroke-width="0.12">电流输入</text>
<path d="M508.9,832.3H562.4V858.8H508.9" fill="none" stroke="#231815" stroke-width="1.6"/>
<line x1="529.4" y1="832.3" x2="529.4" y2="858.8" stroke="#231815" stroke-width="1.6" />
<line x1="536.1999999999999" y1="832.3" x2="536.1999999999999" y2="858.8" stroke="#231815" stroke-width="1.6" />
<circle cx="549.3" cy="845.55" r="12.7" fill="none" stroke="#231815" stroke-width="1.6"/>
<path d="M547.4499999999999,832.3V843.6999999999999H536.5999999999999 M551.15,832.3V843.6999999999999H562.0 M547.4499999999999,858.8V847.4H536.5999999999999 M551.15,858.8V847.4H562.0" fill="none" stroke="#231815" stroke-width="1.4"/>
<text x="517.3" y="850.7" font-size="13.8" fill="#111" font-weight="700" text-anchor="start" font-family="Liberation Sans" >3</text>
<path d="M508.9,862.6H562.4V889.1H508.9" fill="none" stroke="#231815" stroke-width="1.6"/>
<line x1="529.4" y1="862.6" x2="529.4" y2="889.1" stroke="#231815" stroke-width="1.6" />
<line x1="536.1999999999999" y1="862.6" x2="536.1999999999999" y2="889.1" stroke="#231815" stroke-width="1.6" />
<circle cx="549.3" cy="875.85" r="12.7" fill="none" stroke="#231815" stroke-width="1.6"/>
<path d="M547.4499999999999,862.6V874.0H536.5999999999999 M551.15,862.6V874.0H562.0 M547.4499999999999,889.1V877.7H536.5999999999999 M551.15,889.1V877.7H562.0" fill="none" stroke="#231815" stroke-width="1.4"/>
<text x="517.3" y="881.8" font-size="13.8" fill="#111" font-weight="700" text-anchor="start" font-family="Liberation Sans" >4</text>
<line x1="562.4" y1="845.2" x2="589.5" y2="845.2" stroke="#231815" stroke-width="1.5" />
<circle cx="592.6" cy="845.2" r="3.2" fill="none" stroke="#231815" stroke-width="1.5"/>
<line x1="562.4" y1="874.7" x2="589.5" y2="874.7" stroke="#231815" stroke-width="1.5" />
<circle cx="592.6" cy="874.7" r="3.2" fill="none" stroke="#231815" stroke-width="1.5"/>
<line x1="568.8" y1="837.3" x2="577.9" y2="837.3" stroke="#231815" stroke-width="1.4" />
<line x1="568.8" y1="883" x2="577.9" y2="883" stroke="#231815" stroke-width="1.4" />
<line x1="573.3" y1="878.5" x2="573.3" y2="887.5" stroke="#231815" stroke-width="1.4" />
<text transform="translate(589.1,864.1) scale(0.850,1)" x="0" y="0" font-size="16.1" fill="#231815" font-weight="400" font-family="Liberation Sans" textLength="40.94" lengthAdjust="spacing" stroke="#231815" stroke-width="0.3">mAin</text>
<text transform="translate(639.90,824.3) scale(1.1,1)" x="0" y="0" font-size="16" fill="#231815" font-weight="400" font-family="Liberation Sans" textLength="107.37" lengthAdjust="spacing" stroke="#231815" stroke-width="0.12">报警输出(常开)</text>
<path d="M642.4,837.3H692.1V861.0999999999999H642.4" fill="none" stroke="#231815" stroke-width="1.6"/>
<line x1="661.8" y1="837.3" x2="661.8" y2="861.0999999999999" stroke="#231815" stroke-width="1.6" />
<line x1="667.9" y1="837.3" x2="667.9" y2="861.0999999999999" stroke="#231815" stroke-width="1.6" />
<circle cx="680.0" cy="849.1999999999999" r="11.5" fill="none" stroke="#231815" stroke-width="1.6"/>
<path d="M678.15,837.3V847.3499999999999H668.5 M681.85,837.3V847.3499999999999H691.5 M678.15,861.0999999999999V851.05H668.5 M681.85,861.0999999999999V851.05H691.5" fill="none" stroke="#231815" stroke-width="1.4"/>
<text x="644.6" y="855.5" font-size="12.4" fill="#111" font-weight="700" text-anchor="start" font-family="Liberation Sans" textLength="15" lengthAdjust="spacingAndGlyphs" >11</text>
<path d="M642.4,866.1H692.1V889.9H642.4" fill="none" stroke="#231815" stroke-width="1.6"/>
<line x1="661.8" y1="866.1" x2="661.8" y2="889.9" stroke="#231815" stroke-width="1.6" />
<line x1="667.9" y1="866.1" x2="667.9" y2="889.9" stroke="#231815" stroke-width="1.6" />
<circle cx="680.0" cy="878.0" r="11.5" fill="none" stroke="#231815" stroke-width="1.6"/>
<path d="M678.15,866.1V876.15H668.5 M681.85,866.1V876.15H691.5 M678.15,889.9V879.85H668.5 M681.85,889.9V879.85H691.5" fill="none" stroke="#231815" stroke-width="1.4"/>
<text x="644.6" y="884.8" font-size="12.4" fill="#111" font-weight="700" text-anchor="start" font-family="Liberation Sans" textLength="15" lengthAdjust="spacingAndGlyphs" >12</text>
<line x1="692.1" y1="848.5" x2="709.5" y2="848.5" stroke="#231815" stroke-width="1.5" />
<circle cx="712.6" cy="848.5" r="3.1" fill="none" stroke="#231815" stroke-width="1.5"/>
<line x1="714.6" y1="850.8" x2="727" y2="860.3" stroke="#231815" stroke-width="1.5" />
<polyline points="692.1,877 718.6,877 718.6,865" fill="none" stroke="#231815" stroke-width="1.5" stroke-linejoin="miter" />
<circle cx="718.6" cy="861.8" r="3.1" fill="none" stroke="#231815" stroke-width="1.5"/>
<text transform="translate(696.1999999999999,868.1) scale(0.621,1)" x="0" y="0" font-size="16" fill="#231815" font-weight="400" font-family="Liberation Sans" textLength="24.00" lengthAdjust="spacing" stroke="#231815" stroke-width="0.35">NO</text>
<text transform="translate(729.0,869.5) scale(0.843,1)" x="0" y="0" font-size="18" fill="#231815" font-weight="400" font-family="Liberation Sans" textLength="32.03" lengthAdjust="spacing" stroke="#231815" stroke-width="0.3">AL2</text>
<text transform="translate(791.70,821) scale(1.1,1)" x="0" y="0" font-size="16" fill="#231815" font-weight="400" font-family="Liberation Sans" textLength="62.92" lengthAdjust="spacing" stroke="#231815" stroke-width="0.12">工作电源</text>
<path d="M794.2,833H846.1V858.3H794.2" fill="none" stroke="#231815" stroke-width="1.6"/>
<line x1="814.2" y1="833" x2="814.2" y2="858.3" stroke="#231815" stroke-width="1.6" />
<line x1="820.8000000000001" y1="833" x2="820.8000000000001" y2="858.3" stroke="#231815" stroke-width="1.6" />
<circle cx="833.45" cy="845.65" r="12.2" fill="none" stroke="#231815" stroke-width="1.6"/>
<path d="M831.6,833V843.8H821.25 M835.3000000000001,833V843.8H845.6500000000001 M831.6,858.3V847.5H821.25 M835.3000000000001,858.3V847.5H845.6500000000001" fill="none" stroke="#231815" stroke-width="1.4"/>
<text x="796.4" y="851.1" font-size="12.4" fill="#111" font-weight="700" text-anchor="start" font-family="Liberation Sans" textLength="14" lengthAdjust="spacingAndGlyphs" >13</text>
<path d="M794.2,863H846.1V888.3H794.2" fill="none" stroke="#231815" stroke-width="1.6"/>
<line x1="814.2" y1="863" x2="814.2" y2="888.3" stroke="#231815" stroke-width="1.6" />
<line x1="820.8000000000001" y1="863" x2="820.8000000000001" y2="888.3" stroke="#231815" stroke-width="1.6" />
<circle cx="833.45" cy="875.65" r="12.2" fill="none" stroke="#231815" stroke-width="1.6"/>
<path d="M831.6,863V873.8H821.25 M835.3000000000001,863V873.8H845.6500000000001 M831.6,888.3V877.5H821.25 M835.3000000000001,888.3V877.5H845.6500000000001" fill="none" stroke="#231815" stroke-width="1.4"/>
<text x="796.4" y="881.8" font-size="12.4" fill="#111" font-weight="700" text-anchor="start" font-family="Liberation Sans" textLength="14" lengthAdjust="spacingAndGlyphs" >14</text>
<line x1="846.1" y1="846.7" x2="872.8" y2="846.7" stroke="#231815" stroke-width="1.5" />
<circle cx="876" cy="846.7" r="3.1" fill="none" stroke="#231815" stroke-width="1.5"/>
<line x1="846.1" y1="876.2" x2="872.8" y2="876.2" stroke="#231815" stroke-width="1.5" />
<circle cx="876" cy="876.2" r="3.1" fill="none" stroke="#231815" stroke-width="1.5"/>
<text transform="translate(856.4,844.6) scale(0.900,1)" x="0" y="0" font-size="14.6" fill="#231815" font-weight="400" font-family="Liberation Sans" textLength="9.44" lengthAdjust="spacing" stroke="#231815" stroke-width="0.35">L</text>
<text transform="translate(858.0,891.1) scale(0.850,1)" x="0" y="0" font-size="13.9" fill="#231815" font-weight="700" font-family="Liberation Sans" textLength="10.35" lengthAdjust="spacing" stroke="#231815" stroke-width="0.1">N</text>
<line x1="-15.4" y1="954.2" x2="986" y2="954.2" stroke="#a5a5a5" stroke-width="2.2" stroke-dasharray="23.2 23.9"/>
<polygon points="67.4,972.0 70.13,980.34 78.91,980.36 71.82,985.54 74.51,993.89 67.4,988.75 60.29,993.89 62.98,985.54 55.89,980.36 64.67,980.34" fill="#000"/>
<text x="96.6" y="992.0" font-size="23.2" fill="#111" font-weight="500" text-anchor="start" font-family="Liberation Sans" letter-spacing="1.8" stroke="#111" stroke-width="0.45">热电偶输入： 应采用与热电偶对应的补偿导线作为延长线，应有屏蔽层；</text>
<polygon points="67.4,1015.9 70.13,1024.24 78.91,1024.26 71.82,1029.44 74.51,1037.79 67.4,1032.65 60.29,1037.79 62.98,1029.44 55.89,1024.26 64.67,1024.24" fill="#000"/>
<text x="96.6" y="1035.9" font-size="23.2" fill="#111" font-weight="500" text-anchor="start" font-family="Liberation Sans" letter-spacing="1.8" stroke="#111" stroke-width="0.45">热电阻输入：三根导线的电阻值必须相等，每根导线的电阻不能超过15Ω；</text>
<polygon points="67.4,1059.8 70.13,1068.14 78.91,1068.16 71.82,1073.34 74.51,1081.69 67.4,1076.55 60.29,1081.69 62.98,1073.34 55.89,1068.16 64.67,1068.14" fill="#000"/>
<text x="96.6" y="1079.8" font-size="23.2" fill="#111" font-weight="500" text-anchor="start" font-family="Liberation Sans" letter-spacing="1.8" stroke="#111" stroke-width="0.45">传感器和通讯线应使用屏蔽绞线.，并在一点接地，布线应远离强电走线；</text>
<polygon points="67.4,1103.7 70.13,1112.04 78.91,1112.06 71.82,1117.24 74.51,1125.59 67.4,1120.45 60.29,1125.59 62.98,1117.24 55.89,1112.06 64.67,1112.04" fill="#000"/>
<text x="96.6" y="1123.7" font-size="23.2" fill="#111" font-weight="500" text-anchor="start" font-family="Liberation Sans" letter-spacing="1.8" stroke="#111" stroke-width="0.45">不同外形尺寸仪表，接线图不尽相同，请以实物为准。</text>
</svg>
</body>
</html>
